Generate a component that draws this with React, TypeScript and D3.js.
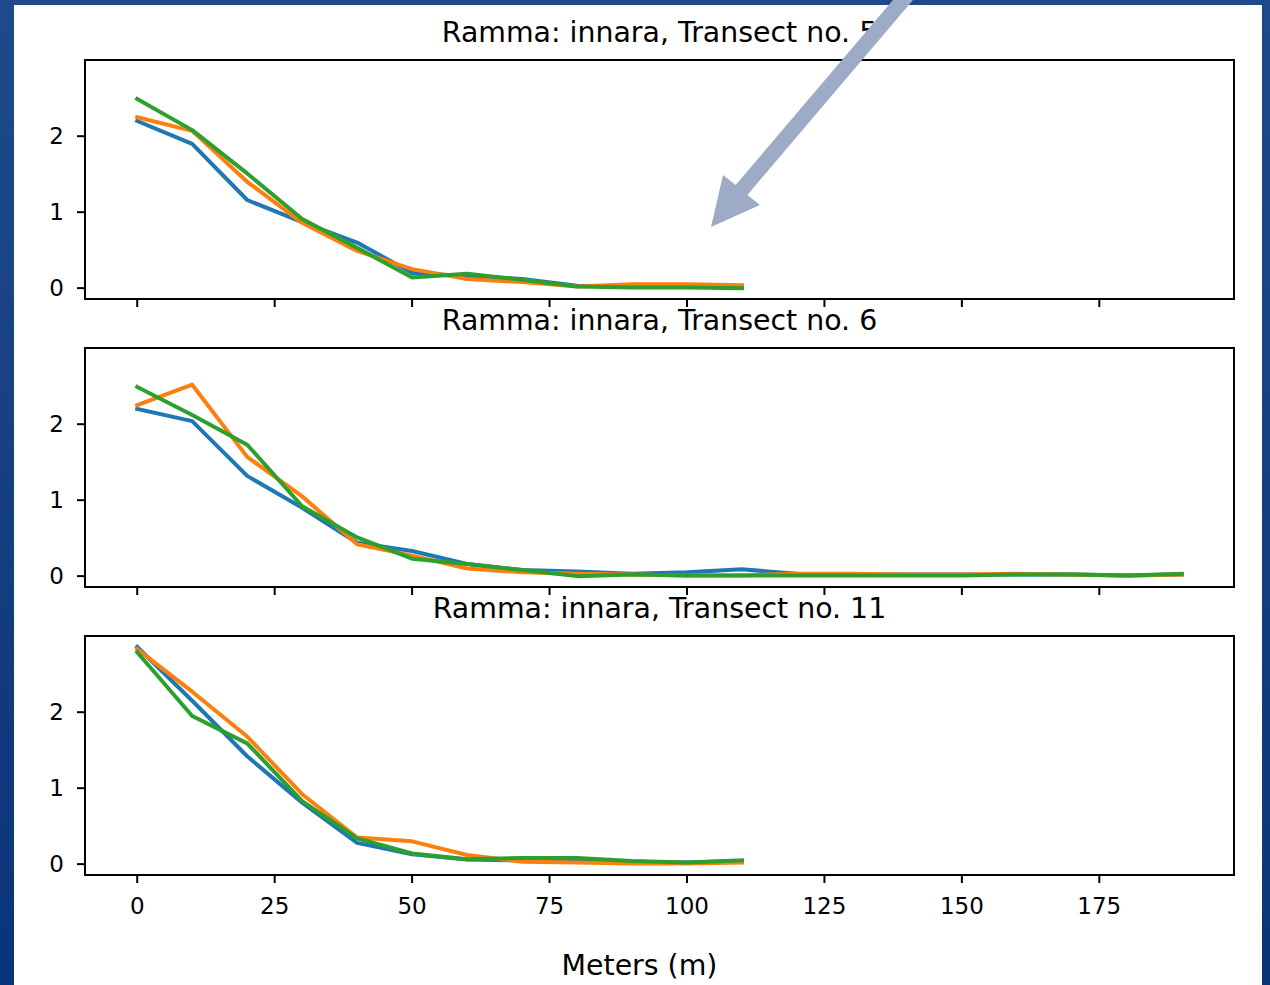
import React from "react";
import * as d3 from "d3";

// ---- data ----
const distShort = [0, 10, 20, 30, 40, 50, 60, 70, 80, 90, 100, 110];
const distLong = [0, 10, 20, 30, 40, 50, 60, 70, 80, 90, 100, 110, 120, 130, 140, 150, 160, 170, 180, 190];

const t5Blue = [2.2, 1.9, 1.16, 0.87, 0.6, 0.2, 0.16, 0.12, 0.03, 0.02, 0.02, 0.02];
const t5Orange = [2.25, 2.07, 1.4, 0.86, 0.49, 0.25, 0.12, 0.08, 0.02, 0.05, 0.05, 0.04];
const t5Green = [2.49, 2.08, 1.51, 0.91, 0.53, 0.14, 0.19, 0.11, 0.02, 0.01, 0.01, 0.0];

const t6Blue = [2.2, 2.04, 1.32, 0.9, 0.44, 0.33, 0.16, 0.08, 0.06, 0.03, 0.05, 0.09, 0.03, 0.02, 0.02, 0.02, 0.02, 0.02, 0.01, 0.02];
const t6Orange = [2.25, 2.52, 1.57, 1.05, 0.42, 0.27, 0.1, 0.05, 0.03, 0.02, 0.01, 0.01, 0.03, 0.03, 0.02, 0.02, 0.03, 0.02, 0.01, 0.02];
const t6Green = [2.49, 2.12, 1.73, 0.92, 0.51, 0.23, 0.16, 0.08, 0.0, 0.02, 0.01, 0.01, 0.01, 0.01, 0.01, 0.01, 0.02, 0.02, 0.01, 0.03];

const t11Blue = [2.86, 2.15, 1.42, 0.81, 0.28, 0.13, 0.06, 0.05, 0.05, 0.03, 0.02, 0.04];
const t11Orange = [2.83, 2.27, 1.68, 0.92, 0.35, 0.3, 0.12, 0.03, 0.02, 0.01, 0.01, 0.02];
const t11Green = [2.79, 1.95, 1.59, 0.83, 0.34, 0.14, 0.065, 0.08, 0.08, 0.04, 0.02, 0.05];

const panelTitles = ["Ramma: innara, Transect no. 5", "Ramma: innara, Transect no. 6", "Ramma: innara, Transect no. 11"];
const xTicks = [0, 25, 50, 75, 100, 125, 150, 175];
const yTicks = [0, 1, 2];
const xLabel = "Meters (m)";
const seriesColors = ["#1f77b4", "#ff7f0e", "#2ca02c"];

const panels = [
  { title: panelTitles[0], x: distShort, series: [t5Blue, t5Orange, t5Green] },
  { title: panelTitles[1], x: distLong, series: [t6Blue, t6Orange, t6Green] },
  { title: panelTitles[2], x: distShort, series: [t11Blue, t11Orange, t11Green] },
];

const W = 1270;
const H = 985;
const FONT = "'DejaVu Sans', sans-serif";

export default function App() {
  const left = 85;
  const right = 1234;
  const panelTops = [60, 348, 636];
  const panelH = 239;

  const allX = [...distLong];
  const xMin = d3.min(allX)!;
  const xMax = d3.max(allX)!;
  const xPad = (xMax - xMin) * 0.05;
  const x = d3.scaleLinear().domain([xMin - xPad, xMax + xPad]).range([left, right]);

  const allY = panels.flatMap((p) => p.series.flat());
  const yMin = d3.min(allY)!;
  const yMax = d3.max(allY)!;
  const yPad = (yMax - yMin) * 0.05;

  return (
    <div style={{ position: "absolute", left: 0, top: 0 }}>
      <svg width={W} height={H} style={{ display: "block" }}>
        <defs>
          <linearGradient id="bg" x1="0" y1="0" x2="0" y2="1">
            <stop offset="0" stopColor="#1f4a8a" />
            <stop offset="1" stopColor="#0a3478" />
          </linearGradient>
        </defs>
        <rect x={0} y={0} width={W} height={H} fill="url(#bg)" />
        <rect x={14} y={5} width={1248} height={H - 5} fill="#ffffff" />

        {panels.map((p, pi) => {
          const top = panelTops[pi];
          const y = d3.scaleLinear().domain([yMin - yPad, yMax + yPad]).range([top + panelH, top]);
          const line = d3
            .line<number>()
            .x((_, i) => x(p.x[i]))
            .y((d) => y(d));
          return (
            <g key={pi}>
              {p.series.map((s, si) => (
                <path
                  key={si}
                  d={line(s) || ""}
                  fill="none"
                  stroke={seriesColors[si]}
                  strokeWidth={4}
                  strokeLinejoin="round"
                  strokeLinecap="square"
                />
              ))}
              <rect x={left} y={top} width={right - left} height={panelH} fill="none" stroke="#000" strokeWidth={2} />
              {xTicks.map((t) => (
                <line key={"xt" + t} x1={x(t)} x2={x(t)} y1={top + panelH} y2={top + panelH + 8} stroke="#000" strokeWidth={2} />
              ))}
              {yTicks.map((t) => (
                <g key={"yt" + t}>
                  <line x1={left - 8} x2={left} y1={y(t)} y2={y(t)} stroke="#000" strokeWidth={2} />
                  <text x={left - 21} y={y(t)} dy="0.36em" textAnchor="end" fontFamily={FONT} fontSize={23} fill="#000">
                    {t}
                  </text>
                </g>
              ))}
              {pi === panels.length - 1 &&
                xTicks.map((t) => (
                  <text key={"xl" + t} x={x(t)} y={top + panelH + 39} textAnchor="middle" fontFamily={FONT} fontSize={23} fill="#000">
                    {t}
                  </text>
                ))}
              <text x={(left + right) / 2} y={top - 18} textAnchor="middle" fontFamily={FONT} fontSize={28.4} fill="#000">
                {p.title}
              </text>
            </g>
          );
        })}

        <text x={(left + right) / 2 - 20} y={975} textAnchor="middle" fontFamily={FONT} fontSize={28.4} fill="#000">
          {xLabel}
        </text>

        {/* annotation arrow */}
        <polygon
          points="921.5,-10 901.5,-10 735.6,185.1 723,175 711,227 760,205 747.4,194.9"
          fill="#9dabc6"
        />
      </svg>
    </div>
  );
}
